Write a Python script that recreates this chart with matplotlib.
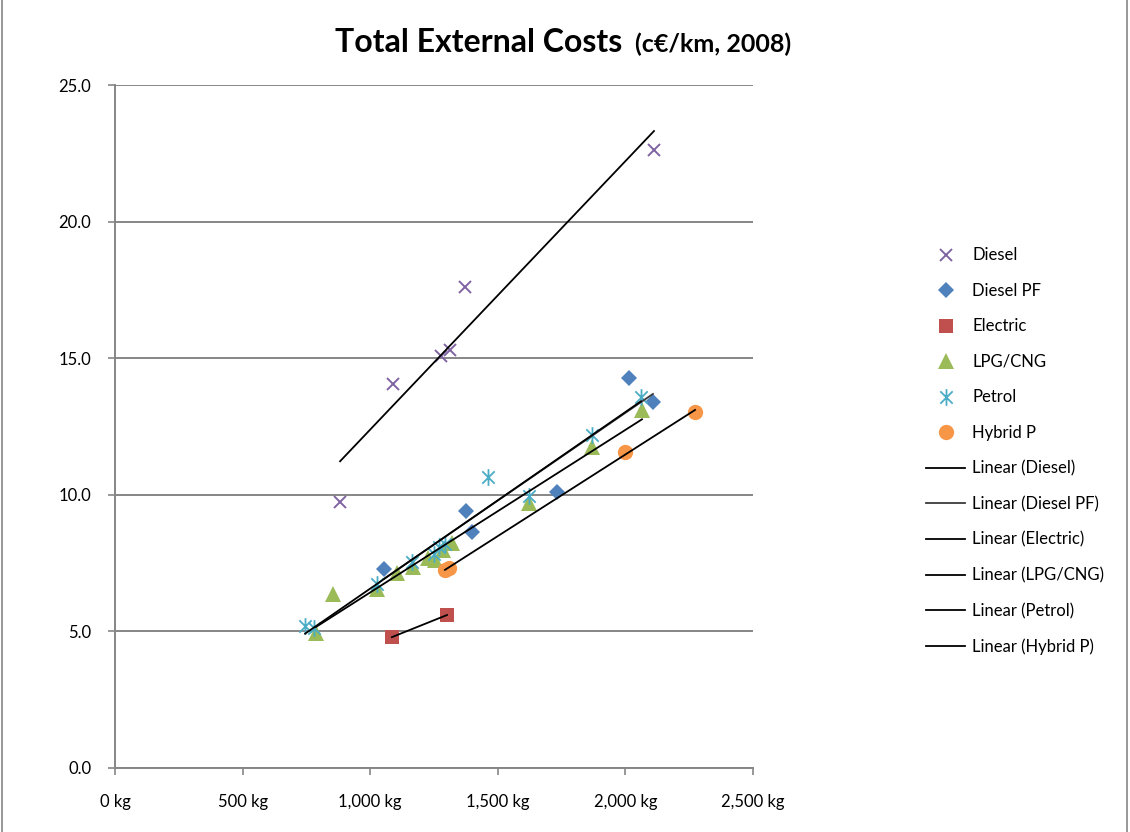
import numpy as np
import matplotlib
matplotlib.use("Agg")
import matplotlib.pyplot as plt
from matplotlib.path import Path
from matplotlib.ticker import FuncFormatter, FormatStrFormatter
from matplotlib.patches import Rectangle

plt.rcParams['font.family'] = ['Lato', 'DejaVu Sans']

# Vehicle mass (kg) and total external costs (c€/km)
diesel_kg = [882, 1089, 1277, 1313, 1371, 2112]
diesel_cost = [9.74, 14.06, 15.08, 15.30, 17.61, 22.62]

dieselpf_kg = [1054, 1375, 1398, 1732, 2014, 2108]
dieselpf_cost = [7.28, 9.41, 8.64, 10.10, 14.28, 13.40]

electric_kg = [1085, 1301]
electric_cost = [4.79, 5.60]

lpg_kg = [788, 854, 1027, 1105, 1168, 1227, 1254, 1285, 1320, 1622, 1869, 2065]
lpg_cost = [4.94, 6.37, 6.55, 7.15, 7.34, 7.69, 7.61, 7.98, 8.24, 9.70, 11.75, 13.12]

petrol_kg = [745, 780, 1025, 1164, 1250, 1270, 1293, 1462, 1622, 1869, 2061]
petrol_cost = [5.20, 5.12, 6.72, 7.54, 7.85, 8.10, 8.20, 10.65, 9.96, 12.20, 13.58]

hybrid_kg = [1293, 1309, 1998, 2273]
hybrid_cost = [7.25, 7.32, 11.57, 13.03]

x_ticks = [0, 500, 1000, 1500, 2000, 2500]
y_ticks = [0, 5, 10, 15, 20, 25]

# Excel-style asterisk: an "x" crossed by a vertical stroke
star_path = Path(
    [(-1, -1), (1, 1), (-1, 1), (1, -1), (0, -1.35), (0, 1.35)],
    [Path.MOVETO, Path.LINETO, Path.MOVETO, Path.LINETO, Path.MOVETO, Path.LINETO],
)

series = [
    ("Diesel", diesel_kg, diesel_cost, dict(marker='x', color='#8064A2', ms=9, mew=1.4, mfc='none'), '#000000'),
    ("Diesel PF", dieselpf_kg, dieselpf_cost, dict(marker='D', color='#4F81BD', ms=8, mew=0), '#3a3a3a'),
    ("Electric", electric_kg, electric_cost, dict(marker='s', color='#C0504D', ms=10, mew=0), '#000000'),
    ("LPG/CNG", lpg_kg, lpg_cost, dict(marker='^', color='#9BBB59', ms=11, mew=0), '#000000'),
    ("Petrol", petrol_kg, petrol_cost, dict(marker=star_path, color='#4BACC6', ms=12, mew=1.3, mfc='none'), '#000000'),
    ("Hybrid P", hybrid_kg, hybrid_cost, dict(marker='o', color='#F79646', ms=11, mew=0), '#000000'),
]

fig = plt.figure(figsize=(11.3, 8.32), dpi=100)
ax = fig.add_axes([115 / 1130, 1 - 768 / 832, (753 - 115) / 1130, (768 - 85) / 832])

marker_handles = []
line_handles = []
for name, xs, ys, style, lc in series:
    h, = ax.plot(xs, ys, linestyle='none', label=name, zorder=3, **style)
    marker_handles.append(h)

# Least-squares trend line for each series over its own mass range
for name, xs, ys, style, lc in series:
    xs = np.asarray(xs, float)
    ys = np.asarray(ys, float)
    slope, icpt = np.polyfit(xs, ys, 1)
    xr = np.array([xs.min(), xs.max()])
    l, = ax.plot(xr, slope * xr + icpt, color=lc, lw=1.3, zorder=4,
                 label=f"Linear ({name})")
    line_handles.append(l)

ax.set_xlim(0, 2500)
ax.set_ylim(0, 25)
ax.set_xticks(x_ticks)
ax.set_yticks(y_ticks)
ax.xaxis.set_major_formatter(FuncFormatter(lambda v, p: f"{int(v):,} kg"))
ax.yaxis.set_major_formatter(FormatStrFormatter('%.1f'))
ax.grid(axis='y', color='#868686', lw=1.4)
ax.set_axisbelow(True)
for s in ('top', 'right'):
    ax.spines[s].set_visible(False)
for s in ('left', 'bottom'):
    ax.spines[s].set_color('#868686')
    ax.spines[s].set_linewidth(1.4)
ax.tick_params(axis='both', colors='#868686', labelcolor='#000000',
               labelsize=12, length=5, width=1.2, direction='out')
ax.tick_params(axis='x', pad=14)
ax.tick_params(axis='y', pad=12)

leg = fig.legend(handles=marker_handles + line_handles, loc='upper left',
                 bbox_to_anchor=(918 / 1130, 1 - 239 / 832), frameon=False,
                 fontsize=12, labelspacing=1.17, handlelength=2.3,
                 handletextpad=0.45, borderpad=0)

fig.text(335 / 1130, 1 - 52 / 832, "Total External Costs", fontsize=23,
         fontweight='bold', ha='left', va='baseline')
fig.text(635 / 1130, 1 - 52 / 832, "(c€/km, 2008)", fontsize=18,
         fontweight='bold', ha='left', va='baseline')

fig.patches.append(Rectangle((2 / 1130, -0.01), 1125 / 1130, 1.1,
                             transform=fig.transFigure, fill=False,
                             edgecolor='#868686', lw=1.2))

fig.savefig("out.png", dpi=100)
